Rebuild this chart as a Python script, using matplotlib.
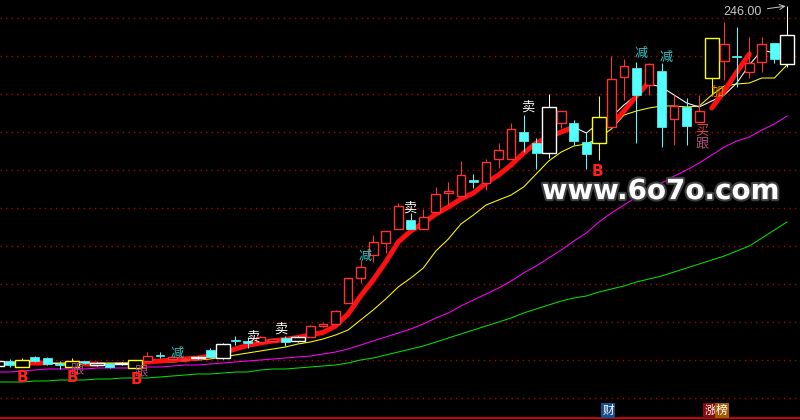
import numpy as np
import matplotlib
matplotlib.use("Agg")
import matplotlib.pyplot as plt
import matplotlib.patheffects as pe

plt.rcParams['font.family'] = ['Noto Sans CJK SC', 'DejaVu Sans']

# candle data, index -1 is the bar cut off at the left edge
idx = np.arange(-1, 63)
opens = [66.0, 68.5, 65.5, 70.5, 70.0, 67.0, 65.5, 68.5, 66.5, 67.0,
         67.0, 65.0, 68.5, 71.5, 69.5, 69.0, 70.0, 74.0, 70.0, 79.0,
         78.5, 78.0, 78.5, 80.0, 78.5, 80.5, 86.0, 87.0, 97.5, 110.0,
         121.5, 127.5, 134.5, 139.0, 134.5, 143.0, 152.5, 151.0, 159.0, 157.5,
         169.5, 169.5, 183.0, 177.5, 172.5, 187.5, 187.5, 178.0, 177.5, 185.5,
         210.5, 215.0, 206.5, 213.5, 189.5, 195.5, 188.0, 210.0, 218.5, 221.0,
         213.0, 218.0, 227.5, 217.0]
closes = [68.5, 66.5, 69.0, 68.5, 67.0, 66.5, 68.5, 67.5, 67.5, 65.5,
          67.5, 69.0, 71.0, 71.0, 70.5, 69.5, 70.5, 70.5, 77.0, 78.5,
          77.5, 80.5, 79.5, 78.0, 80.5, 86.0, 87.0, 93.5, 110.0, 115.5,
          128.0, 133.5, 146.0, 134.5, 140.5, 152.0, 153.5, 161.5, 158.0, 168.0,
          174.0, 184.5, 178.5, 172.5, 195.5, 193.5, 178.5, 172.0, 190.5, 209.5,
          216.0, 201.5, 217.0, 185.5, 196.0, 186.0, 193.5, 230.0, 227.0, 220.5,
          217.5, 227.0, 219.5, 231.5]
highs = [68.5, 69.5, 70.0, 71.0, 70.5, 68.5, 70.0, 68.5, 68.0, 67.5,
         68.0, 69.0, 73.0, 73.0, 71.0, 70.5, 71.0, 75.0, 77.5, 81.0,
         80.5, 81.0, 80.0, 81.0, 81.0, 86.5, 87.5, 94.0, 110.0, 119.0,
         131.5, 133.5, 147.5, 142.5, 144.5, 155.5, 158.0, 168.5, 162.0, 169.5,
         177.5, 187.5, 191.5, 180.0, 202.0, 193.5, 189.0, 183.0, 201.0, 221.0,
         219.5, 218.0, 217.5, 217.5, 201.5, 200.0, 201.5, 230.0, 238.0, 235.5,
         230.5, 230.5, 227.5, 246.0]
lows = [66.0, 65.5, 65.5, 68.0, 66.5, 64.5, 65.5, 67.0, 66.0, 65.0,
        66.5, 65.0, 68.5, 70.0, 69.0, 68.0, 69.5, 70.0, 69.5, 76.5,
        75.0, 77.5, 78.0, 76.0, 78.0, 80.5, 85.5, 86.5, 97.5, 107.5,
        118.0, 122.5, 134.5, 134.5, 134.5, 143.0, 146.5, 151.0, 155.0, 154.0,
        165.0, 169.5, 173.0, 164.5, 170.0, 185.0, 176.5, 164.5, 169.0, 185.5,
        199.0, 177.5, 201.5, 175.5, 176.5, 176.5, 188.0, 201.5, 209.0, 205.5,
        210.0, 213.0, 217.5, 215.5]
# R rise, C fall, W / Y signal bars
bar_type = list("WCYCCCYCWC" "WYRCRRWCWC" "CRRCWRRRRR" "RRRCRRRRCR"
                "RRCCWRCCYR" "RCRCRCRYRC" "RRCW")

ma5 = [67.0, 67.0, 67.5, 67.5, 67.5, 67.0, 67.0, 67.0, 67.0, 67.0,
       67.0, 67.0, 68.0, 68.5, 69.0, 69.5, 70.0, 71.0, 72.5, 74.5,
       76.3, 77.5, 78.5, 79.3, 80.3, 81.5, 82.8, 86.0, 92.0, 101.0,
       109.0, 118.0, 128.0, 133.5, 137.5, 142.0, 145.5, 149.5, 152.5, 157.5,
       161.5, 166.5, 172.5, 177.5, 180.5, 183.0, 185.5, 182.5, 187.5, 190.5,
       196.5, 201.5, 207.0, 205.5, 201.5, 197.5, 195.5, 198.5, 201.5, 207.5,
       216.5, 224.0, 222.5, 222.5]
ma10 = [67.0, 67.0, 67.0, 67.5, 67.5, 67.5, 67.5, 67.5, 67.5, 67.5,
        67.5, 67.5, 67.5, 68.0, 68.0, 68.5, 69.0, 69.5, 70.5, 71.5,
        72.5, 73.5, 74.5, 75.5, 77.0, 78.0, 79.5, 81.5, 84.0, 89.0,
        94.0, 99.5, 105.5, 110.0, 115.0, 123.5, 129.5, 137.0, 141.5, 146.5,
        149.0, 151.5, 155.5, 162.0, 168.5, 173.0, 176.0, 177.0, 180.0, 184.5,
        191.5, 193.5, 195.0, 196.0, 196.0, 195.5, 196.0, 201.5, 206.0, 207.0,
        207.5, 210.0, 210.0, 216.5]
ma20 = [63.0, 63.0, 63.5, 64.0, 64.5, 64.5, 64.5, 64.5, 65.0, 65.0,
        65.0, 65.0, 65.5, 65.5, 66.0, 66.5, 66.5, 67.0, 67.5, 68.0,
        68.5, 69.0, 69.5, 70.0, 70.5, 71.0, 72.0, 73.0, 74.5, 76.5,
        78.5, 80.5, 82.5, 84.5, 87.0, 90.0, 92.5, 96.0, 99.0, 102.0,
        105.0, 108.5, 112.5, 116.0, 120.0, 124.0, 128.5, 132.5, 138.0, 142.5,
        146.5, 150.5, 154.0, 157.5, 161.0, 164.0, 167.5, 171.5, 175.5, 178.5,
        180.5, 184.0, 187.0, 191.0]
ma60 = [58.0, 58.0, 58.0, 58.5, 58.5, 59.0, 59.0, 59.0, 59.5, 59.5,
        60.0, 60.0, 60.0, 60.5, 61.0, 61.5, 62.0, 62.0, 62.5, 63.0,
        63.0, 64.0, 64.5, 64.5, 65.0, 65.5, 66.0, 66.5, 67.5, 69.0,
        70.0, 71.5, 73.0, 74.5, 76.0, 78.0, 80.0, 82.0, 84.0, 86.0,
        88.0, 90.0, 92.5, 94.5, 96.5, 98.5, 100.0, 101.0, 103.0, 104.5,
        106.0, 108.0, 109.5, 111.0, 113.0, 115.0, 117.0, 119.0, 121.0, 123.5,
        126.0, 130.0, 134.0, 138.0]
nan = np.nan
trend = [nan, nan, 67.5, 67.5, 67.5, nan, nan, 67.0, 67.0, nan,
         nan, 67.0, 68.0, 68.5, 69.0, 69.5, 70.0, 71.0, 72.5, 74.5,
         76.3, 77.5, 78.5, 79.3, 80.3, 81.5, 82.8, 86.0, 92.0, 101.0,
         109.0, 118.0, 128.0, 133.5, 137.5, 142.0, 145.5, 149.5, 152.5, 157.5,
         161.5, 166.5, 172.5, 177.5, 180.5, 183.0, 185.5, nan, nan, 186.5,
         193.5, 201.0, 208.0, nan, nan, nan, nan, 195.0, 203.5, 213.0,
         222.0, nan, nan, nan]

grid_levels = [240, 221, 202, 183, 164, 145, 126, 107, 88, 69, 50]

# signal texts: (text, bar position, price, colour)
signals = [("卖", 19.4, 80.3, "white"), ("卖", 21.6, 84.3, "white"),
           ("卖", 31.9, 145.0, "white"), ("卖", 41.3, 195.3, "white"),
           ("减", 13.4, 72.5, "#2EC4C4"), ("减", 28.4, 121.0, "#2EC4C4"),
           ("减", 50.4, 222.5, "#2EC4C4"), ("减", 52.4, 220.5, "#2EC4C4"),
           ("跟", 5.4, 64.0, "#B0507A"), ("跟", 10.5, 63.0, "#B0507A"),
           ("买", 55.2, 183.5, "#D84848"), ("跟", 55.2, 177.0, "#B0507A"),
           ("加", 56.4, 203.0, "#E88A00")]
b_marks = [(1.0, 60.5), (5.0, 60.0), (10.1, 59.0), (46.9, 163.0)]

fig = plt.figure(figsize=(8, 4.2), dpi=100, facecolor='black')
ax = fig.add_axes([0, 0, 1, 1])
ax.set_facecolor('black')
ax.set_xlim(-0.758, 63.04)
ax.set_ylim(39, 249)
ax.axis('off')

for g in grid_levels:
    ax.axhline(g, color='#B00000', lw=1, ls=(0, (1, 3)), zorder=1)
ax.axhline(40, color='#D00000', lw=1.4, zorder=1)

lw1 = 0.75
ax.plot(idx, ma60, color='#00E000', lw=lw1, zorder=2)
ax.plot(idx, ma20, color='#FF00FF', lw=lw1, zorder=2)
ax.plot(idx, ma10, color='#FFFF00', lw=lw1, zorder=2)
ax.plot(idx, ma5, color='white', lw=lw1, zorder=2)
ax.plot(idx, trend, color='#FF1010', lw=3.6, solid_capstyle='round', zorder=3)

colors = {'R': '#FF3232', 'C': '#54FFFF', 'W': 'white', 'Y': '#FFFF00'}
for x, o, h, l, c, t in zip(idx, opens, highs, lows, closes, bar_type):
    col = colors[t]
    top, bot = max(o, c), min(o, c)
    w = 1.12 if t in 'WY' else 0.7
    ax.vlines(x, top, h, color=col, lw=lw1, zorder=4)
    ax.vlines(x, l, bot, color=col, lw=lw1, zorder=4)
    if t == 'C':
        ax.bar(x, max(top - bot, 0.3), bottom=bot, width=w, color=col,
               edgecolor=col, lw=0.5, zorder=5)
    else:
        ax.bar(x, max(top - bot, 0.01), bottom=bot, width=w, facecolor='black',
               edgecolor=col, lw=1.0, zorder=5)

for s, x, y, col in signals:
    ax.text(x, y, s, color=col, fontsize=9.5, ha='center', va='center', zorder=6)
for x, y in b_marks:
    ax.text(x, y, "B", color='#FF2020', fontsize=11, fontweight='bold',
            family='DejaVu Sans', ha='center', va='center', zorder=7)

ax.annotate("246.00", xy=(62, highs[-1]), xytext=(60.0, 243.0),
            color='#C8C8C8', fontsize=9, family='Liberation Sans',
            ha='right', va='center',
            arrowprops=dict(arrowstyle='->', color='#C8C8C8', lw=0.7,
                            shrinkA=2, shrinkB=1), zorder=7)

fig.text(0.826, 0.545, "www.6o7o.com", color='white', fontsize=20,
         fontweight='bold', family='DejaVu Sans', ha='center', va='center',
         path_effects=[pe.withStroke(linewidth=3, foreground='#404040')])

fig.text(0.7605, 0.007, "财", color='white', fontsize=8.5, ha='center', va='bottom',
         bbox=dict(boxstyle='square,pad=0.1', facecolor='#1A4E8C', edgecolor='none'))
fig.text(0.8875, 0.007, "涨", color='white', fontsize=8.5, ha='center', va='bottom',
         bbox=dict(boxstyle='square,pad=0.1', facecolor='#8C0A0A', edgecolor='none'))
fig.text(0.9025, 0.007, "榜", color='white', fontsize=8.5, ha='center', va='bottom',
         bbox=dict(boxstyle='square,pad=0.1', facecolor='#A05A00', edgecolor='none'))

fig.savefig("out.png", dpi=100, facecolor='black')
